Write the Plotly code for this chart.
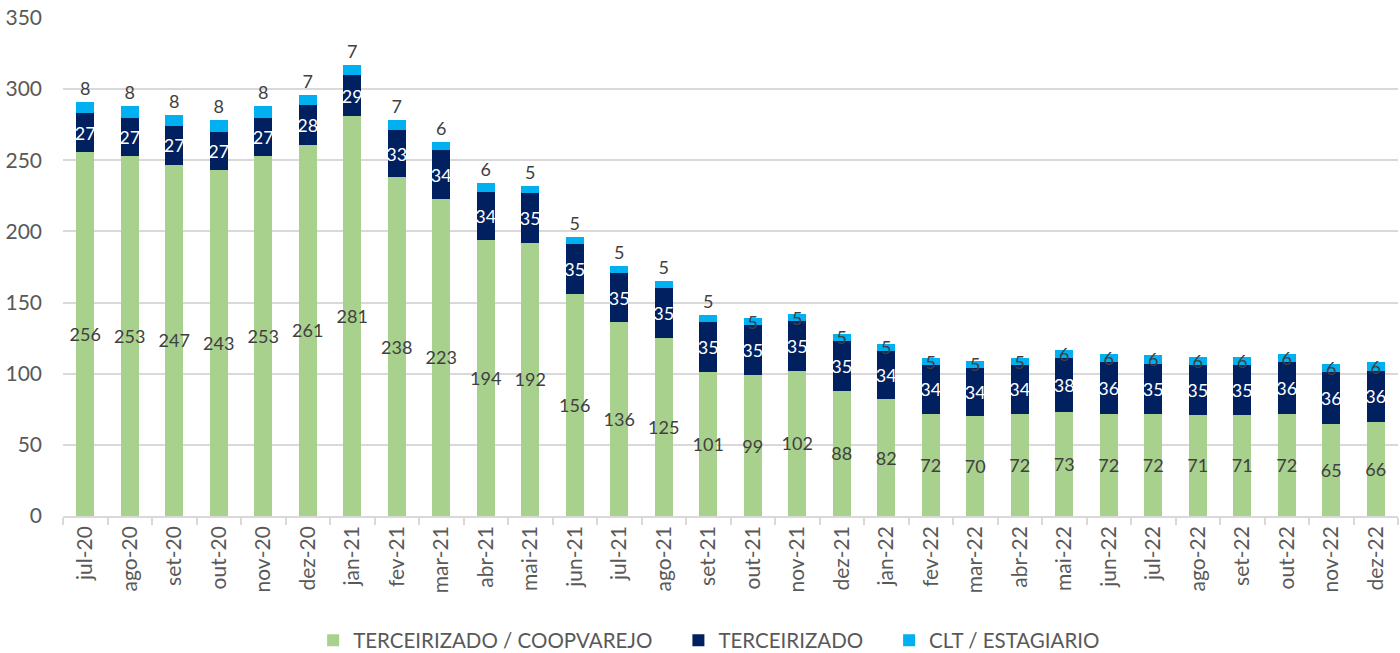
import plotly.graph_objects as go

categories = ["jul-20","ago-20","set-20","out-20","nov-20","dez-20","jan-21","fev-21","mar-21","abr-21",
              "mai-21","jun-21","jul-21","ago-21","set-21","out-21","nov-21","dez-21","jan-22","fev-22",
              "mar-22","abr-22","mai-22","jun-22","jul-22","ago-22","set-22","out-22","nov-22","dez-22"]
coopvarejo = [256,253,247,243,253,261,281,238,223,194,192,156,136,125,101,99,102,88,82,72,70,72,73,72,72,71,71,72,65,66]
terceirizado = [27,27,27,27,27,28,29,33,34,34,35,35,35,35,35,35,35,35,34,34,34,34,38,36,35,35,35,36,36,36]
clt = [8,8,8,8,8,7,7,7,6,6,5,5,5,5,5,5,5,5,5,5,5,5,6,6,6,6,6,6,6,6]

FONT = "Lato"
LABEL = "#404040"
n_out = 15
clt_pos = ["outside"] * n_out + ["inside"] * (len(categories) - n_out)
PAD = "\u00a0" * 4

fig = go.Figure()
fig.add_trace(go.Bar(x=categories, y=coopvarejo, name="TERCEIRIZADO / COOPVAREJO" + PAD,
                     marker=dict(color="#A9D18E", line=dict(width=0)),
                     text=coopvarejo, textposition="inside", insidetextanchor="middle",
                     textangle=0, constraintext="none",
                     textfont=dict(color=LABEL, size=18, family=FONT)))
fig.add_trace(go.Bar(x=categories, y=terceirizado, name="TERCEIRIZADO" + PAD,
                     marker=dict(color="#002060", line=dict(width=0)),
                     text=terceirizado, textposition="inside", insidetextanchor="middle",
                     textangle=0, constraintext="none",
                     textfont=dict(color="white", size=18, family=FONT)))
fig.add_trace(go.Bar(x=categories, y=clt, name="CLT / ESTAGIARIO",
                     marker=dict(color="#00B0F0", line=dict(width=0)),
                     text=clt, textposition=clt_pos, insidetextanchor="middle",
                     textangle=0, constraintext="none", cliponaxis=False,
                     textfont=dict(color=LABEL, size=18, family=FONT)))

fig.update_layout(
    barmode="stack", bargap=0.6,
    width=1400, height=653,
    margin=dict(l=63, r=2, t=18, b=137, autoexpand=False),
    plot_bgcolor="white", paper_bgcolor="white",
    font=dict(family=FONT, color="#595959", size=18),
    showlegend=True,
    legend=dict(orientation="h", x=0.484, xanchor="center", y=-0.25, yanchor="middle",
                font=dict(size=20.5, color="#595959", family=FONT), traceorder="normal",
                itemwidth=30),
)
fig.update_yaxes(range=[0, 350], dtick=50, showgrid=True, gridcolor="#D9D9D9", gridwidth=1.5,
                 zeroline=False, showline=False, ticks="", tickfont=dict(size=21, color="#595959"),
                 ticklabelstandoff=20, automargin=False, ticklabeloverflow="allow")
fig.update_xaxes(type="category", showline=True, linecolor="#D9D9D9", linewidth=1.5,
                 ticks="outside", tickson="boundaries", ticklen=7, tickcolor="#D9D9D9",
                 tickwidth=1.5, tickangle=-90, tickfont=dict(size=21, color="#595959"),
                 showgrid=False, automargin=False)

fig.write_html("out.html", config={"displayModeBar": False},
               post_script="document.body.style.margin='0';")
